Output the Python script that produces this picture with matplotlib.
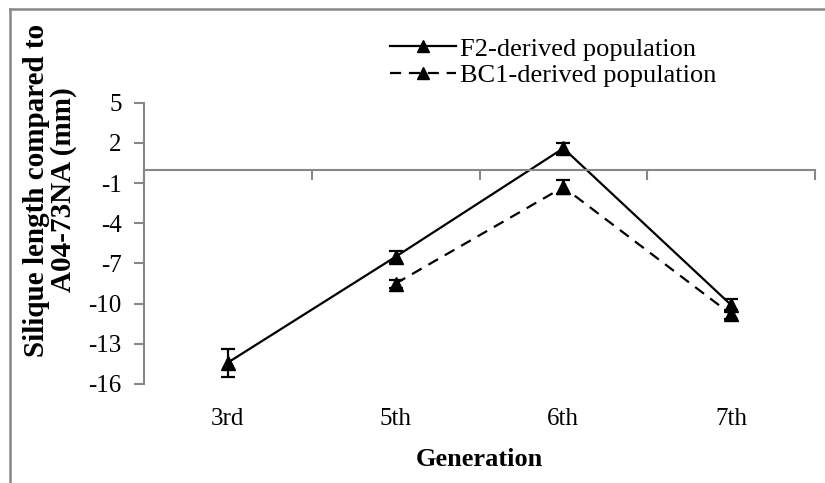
import numpy as np
import matplotlib.pyplot as plt
from matplotlib.lines import Line2D
import matplotlib.transforms as mtransforms

plt.rcParams['font.family'] = ['Liberation Serif', 'DejaVu Serif']
plt.rcParams['axes.unicode_minus'] = False

generations = ["3rd", "5th", "6th", "7th"]
f2_mean = [-14.4, -6.5, 1.6, -10.1]
f2_err = [1.05, 0.45, 0.4, 0.45]
bc1_mean = [np.nan, -8.5, -1.3, -10.8]
bc1_err = [np.nan, 0.3, 0.5, 0.35]
yticks = [-16, -13, -10, -7, -4, -1, 2, 5]

gray = "#878787"
dash = (0, (5, 3.5))

fig = plt.figure(figsize=(8.25, 4.83), dpi=100)
ax = fig.add_axes([144 / 825, 1 - 384 / 483, (815 - 144) / 825, (384 - 102.7) / 483])

x = np.arange(len(generations))
ax.errorbar(x, f2_mean, yerr=f2_err, color="black", lw=1.6, marker="^",
            markersize=10, capsize=5, capthick=1.6, elinewidth=1.6)
ax.errorbar(x, bc1_mean, yerr=bc1_err, color="black", lw=1.6, marker="^",
            markersize=10, capsize=5, capthick=1.6, elinewidth=1.6,
            linestyle=dash)

ax.set_xlim(-0.5, 3.5)
ax.set_ylim(-16, 5)
ax.set_yticks(yticks)
ax.set_xticks(np.arange(-0.5, 4, 1))
ax.set_xticklabels([])

for s in ["top", "right"]:
    ax.spines[s].set_visible(False)
ax.spines["bottom"].set_position(("data", 0))
for s in ["left", "bottom"]:
    ax.spines[s].set_color(gray)
    ax.spines[s].set_linewidth(1.5)
ax.tick_params(axis="both", colors=gray, width=1.5, length=7, labelsize=18,
               labelcolor="black")
ax.tick_params(axis="y", pad=9)

trans = mtransforms.blended_transform_factory(ax.transData, ax.transAxes)
for i, g in enumerate(generations):
    ax.text(i, -0.125, g, transform=trans, ha="center", va="center", fontsize=18)

ax.text(0.5, -0.268, "Generation", transform=ax.transAxes, ha="center",
        va="center", fontsize=19, fontweight="bold")
fig.text(50 / 825, 1 - 190 / 483, "Silique length compared to\nA04-73NA (mm)",
         rotation=90, ha="center", va="center", fontsize=21, fontweight="bold",
         linespacing=1.0)

handles = [
    Line2D([], [], color="black", lw=1.6, marker="^", markersize=8),
    Line2D([], [], color="black", lw=1.6, marker="^", markersize=8, linestyle=dash),
]
ax.legend(handles, ["F2-derived population", "BC1-derived population"],
          loc="center left", bbox_to_anchor=(377 / 825, 1 - 62 / 483),
          bbox_transform=fig.transFigure, frameon=False, fontsize=19,
          handlelength=2.5, handletextpad=0.15, labelspacing=0.1, borderpad=0)

# outer frame of the chart area
fig.add_artist(Line2D([10 / 825, 10 / 825], [0, 1 - 9 / 483], color=gray, lw=1.8,
                      transform=fig.transFigure))
fig.add_artist(Line2D([10 / 825, 1], [1 - 9 / 483, 1 - 9 / 483], color=gray, lw=1.8,
                      transform=fig.transFigure))

fig.savefig("out.png", dpi=100)
